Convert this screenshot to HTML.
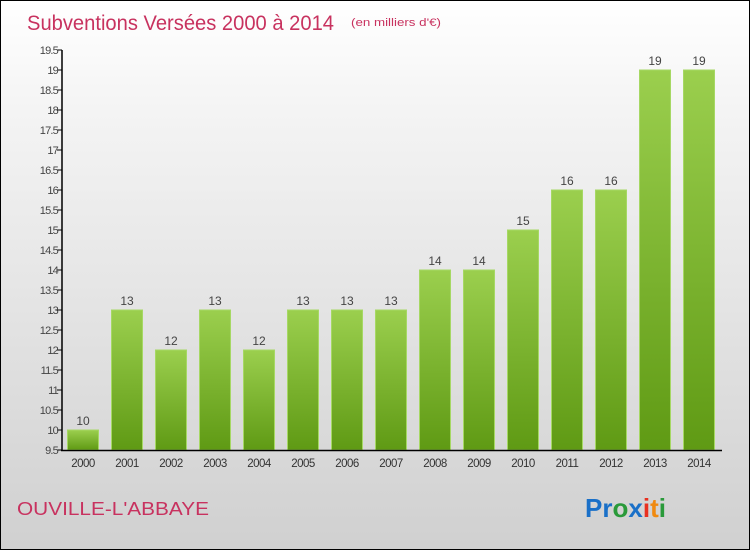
<!DOCTYPE html>
<html><head><meta charset="utf-8"><style>
body{margin:0}
#c{width:748px;height:548px;border:1px solid #000;background:linear-gradient(#ffffff,#f4f4f4 20%,#d0d0d0);position:relative;font-family:"Liberation Sans",sans-serif;overflow:hidden}
</style></head><body>
<div id="c">
<svg width="748" height="548" id="s">
<defs><linearGradient id="g" x1="0" y1="0" x2="0" y2="1"><stop offset="0" stop-color="#9bcf4e"/><stop offset="1" stop-color="#5f9a14"/></linearGradient></defs>
<text x="26" y="29" font-size="21" fill="#c8325f" textLength="307" lengthAdjust="spacingAndGlyphs">Subventions Versées 2000 à 2014</text>
<text x="350" y="25" font-size="11" fill="#c8325f" textLength="90" lengthAdjust="spacingAndGlyphs">(en milliers d'€)</text>
<text x="16" y="514" font-size="18" fill="#c8325f" textLength="192" lengthAdjust="spacingAndGlyphs">OUVILLE-L'ABBAYE</text>
<text x="584" y="516" font-size="26" font-weight="bold"><tspan fill="#1a70c8">Pr</tspan><tspan fill="#2a9a3a">o</tspan><tspan fill="#1a70c8">x</tspan><tspan fill="#e83020">i</tspan><tspan fill="#f08a10">t</tspan><tspan fill="#2a9a3a">i</tspan></text>
<g id="plot"></g>
</svg></div>
<script>
const years=["2000","2001","2002","2003","2004","2005","2006","2007","2008","2009","2010","2011","2012","2013","2014"];
const values=[10,13,12,13,12,13,13,13,14,14,15,16,16,19,19];
const ticks=[9.5,10,10.5,11,11.5,12,12.5,13,13.5,14,14.5,15,15.5,16,16.5,17,17.5,18,18.5,19,19.5];
const NS="http://www.w3.org/2000/svg";
const g=document.getElementById('plot');
const y=v=>449-(v-9.5)*40;
const x=i=>81.5+44*i;
function mk(t,a){const e=document.createElementNS(NS,t);for(const k in a)e.setAttribute(k,a[k]);g.appendChild(e);return e;}
ticks.forEach(t=>{
 const l=mk('line',{x1:56,x2:61,y1:y(t),y2:y(t),stroke:'#000'});
 
 
 const tx=mk('text',{x:57,y:y(t)+4,'text-anchor':'end','font-size':11,fill:'#444','letter-spacing':'-0.8'});
 tx.textContent=String(t);
 
 
});
values.forEach((v,i)=>{
 const r=mk('rect',{x:x(i)-15,y:y(v),width:31,height:y(9.5)-y(v),fill:'url(#g)',stroke:'#a6d864','stroke-width':1});
 
 
 const t=mk('text',{x:x(i)+0.5,y:y(v)-5,'text-anchor':'middle','font-size':12,fill:'#444'});
 t.textContent=String(v);
 
 
 const xl=mk('text',{x:x(i)+0.5,y:466,'text-anchor':'middle','font-size':11.5,fill:'#333','letter-spacing':'-0.5'});
 xl.textContent=years[i];
 
 
});
const ya=mk('line',{x1:61,x2:61,y1:y(19.5),y2:y(9.5)+0.5,stroke:'#000','stroke-width':1.5});


const xa=mk('line',{x1:60,x2:721,y1:y(9.5)+0.5,y2:y(9.5)+0.5,stroke:'#000','stroke-width':1.5});


</script>
</body></html>
